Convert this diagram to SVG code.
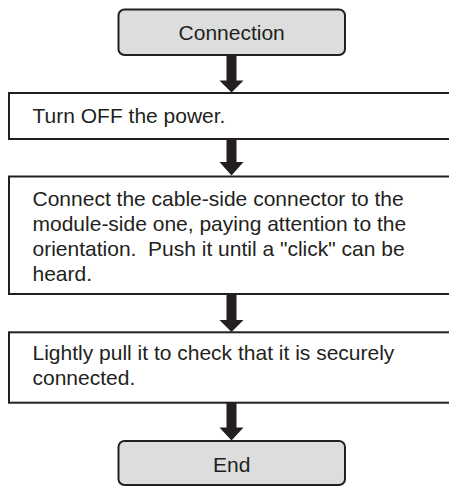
<svg xmlns="http://www.w3.org/2000/svg" width="449" height="486" viewBox="0 0 449 486">
<style>
.term{fill:#dcdddd;stroke:#231f20;stroke-width:2}
.step{fill:#ffffff;stroke:#231f20;stroke-width:2}
text{font-family:"Liberation Sans",Arial,sans-serif;font-size:21px;fill:#231f20}
.c{text-anchor:middle}
.pre{white-space:pre}
.arrow{fill:#231f20}
</style>
<rect width="449" height="486" fill="#ffffff"/>
<g id="connectors">
<path class="arrow" d="M226.5,55 H236.5 V80.5 H243.5 L231.5,92.5 L219.5,80.5 H226.5 Z"/>
<path class="arrow" d="M226.5,139 H236.5 V162 H243.5 L231.5,175.5 L219.5,162 H226.5 Z"/>
<path class="arrow" d="M226.5,294 H236.5 V320 H243.5 L231.5,332 L219.5,320 H226.5 Z"/>
<path class="arrow" d="M226.5,402.7 H236.5 V427.5 H243.5 L231.5,440.5 L219.5,427.5 H226.5 Z"/>
</g>
<g id="start">
<rect class="term" x="118.5" y="9.5" width="226.5" height="45.5" rx="6"/>
<text class="c" x="231.7" y="40">Connection</text>
</g>
<g id="step1">
<rect class="step" x="9" y="93" width="445" height="46"/>
<text x="32.5" y="123">Turn OFF the power.</text>
</g>
<g id="step2">
<rect class="step" x="9" y="176.5" width="445" height="117.5"/>
<text x="32.5" y="205.5">Connect the cable-side connector to the</text>
<text x="32.5" y="230.5">module-side one, paying attention to the</text>
<text class="pre" xml:space="preserve" x="32.5" y="255.5">orientation.  Push it until a "click" can be</text>
<text x="32.5" y="280.5">heard.</text>
</g>
<g id="step3">
<rect class="step" x="9" y="332.3" width="445" height="70.4"/>
<text x="32.5" y="360">Lightly pull it to check that it is securely</text>
<text x="32.5" y="385">connected.</text>
</g>
<g id="end">
<rect class="term" x="118.5" y="441" width="226.5" height="44" rx="6"/>
<text class="c" x="231.7" y="471.5">End</text>
</g>
</svg>
